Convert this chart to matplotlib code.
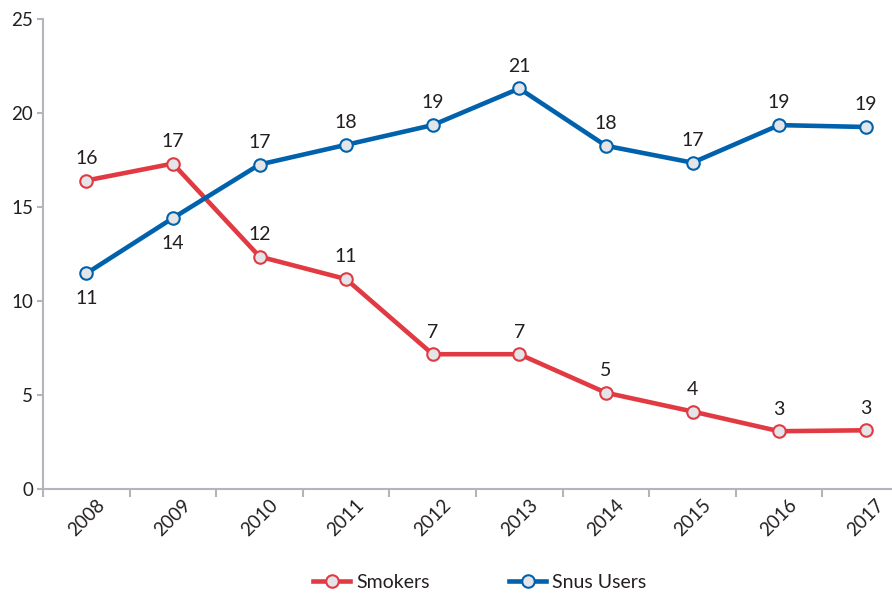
import matplotlib.pyplot as plt
from matplotlib.transforms import ScaledTranslation

plt.rcParams["font.family"] = ["Lato", "DejaVu Sans"]

years = ["2008", "2009", "2010", "2011", "2012", "2013", "2014", "2015", "2016", "2017"]
smokers = [16.4, 17.3, 12.35, 11.15, 7.15, 7.15, 5.1, 4.1, 3.05, 3.1]
snus_users = [11.45, 14.4, 17.25, 18.3, 19.35, 21.3, 18.25, 17.35, 19.35, 19.25]
# labels drawn under the point instead of above
snus_below = ["2008", "2009"]

red = "#e23a42"
blue = "#0062ad"
face = "#e4e5e8"
axis_grey = "#b4b4bc"
text_col = "#231f20"

fig = plt.figure(figsize=(8.92, 5.95), dpi=100)
ax = fig.add_axes([43 / 892, 1 - 488.5 / 595, 866 / 892, 469.5 / 595])

x = list(range(len(years)))
ax.plot(x, smokers, color=red, lw=3.3, marker="o", ms=9, mfc=face, mec=red,
        mew=1.5, label="Smokers", zorder=3)
ax.plot(x, snus_users, color=blue, lw=3.3, marker="o", ms=9, mfc=face, mec=blue,
        mew=1.5, label="Snus Users", zorder=3)

# value labels
for i, v in enumerate(smokers):
    ax.annotate(f"{v:.0f}", (i, v), xytext=(0, 12), textcoords="offset points",
                ha="center", va="baseline", fontsize=14, color=text_col)
for i, v in enumerate(snus_users):
    if years[i] in snus_below:
        ax.annotate(f"{v:.0f}", (i, v), xytext=(0, -12), textcoords="offset points",
                    ha="center", va="top", fontsize=14, color=text_col)
    else:
        ax.annotate(f"{v:.0f}", (i, v), xytext=(0, 12), textcoords="offset points",
                    ha="center", va="baseline", fontsize=14, color=text_col)

ax.set_xlim(-0.5, len(years) - 0.5)
ax.set_ylim(0, 25)
ax.set_yticks([0, 5, 10, 15, 20, 25])

# year labels at band centres, tick marks at band edges
ax.set_xticks(x)
ax.set_xticklabels(years, rotation=45, ha="center", va="center", rotation_mode="anchor")
shift = ScaledTranslation(-4 / 100, 0, fig.dpi_scale_trans)
for lab in ax.get_xticklabels():
    lab.set_transform(lab.get_transform() + shift)
ax.set_xticks([i - 0.5 for i in range(len(years) + 1)], minor=True)
ax.tick_params(axis="x", which="major", length=0, pad=21, labelsize=13.5, labelcolor=text_col)
ax.tick_params(axis="x", which="minor", length=6, width=1.5, color=axis_grey)
ax.tick_params(axis="y", length=4, width=1.5, color=axis_grey, pad=3,
               labelsize=13.5, labelcolor=text_col)

for side in ["top", "right"]:
    ax.spines[side].set_visible(False)
for side in ["left", "bottom"]:
    ax.spines[side].set_color(axis_grey)
    ax.spines[side].set_linewidth(1.5)

fig.legend(loc="center", bbox_to_anchor=(480 / 892, 1 - 582 / 595), ncol=2,
           frameon=False, fontsize=14, handlelength=1.9, columnspacing=4.1,
           handletextpad=0.3, labelcolor=text_col)

fig.savefig("out.png", dpi=100)
